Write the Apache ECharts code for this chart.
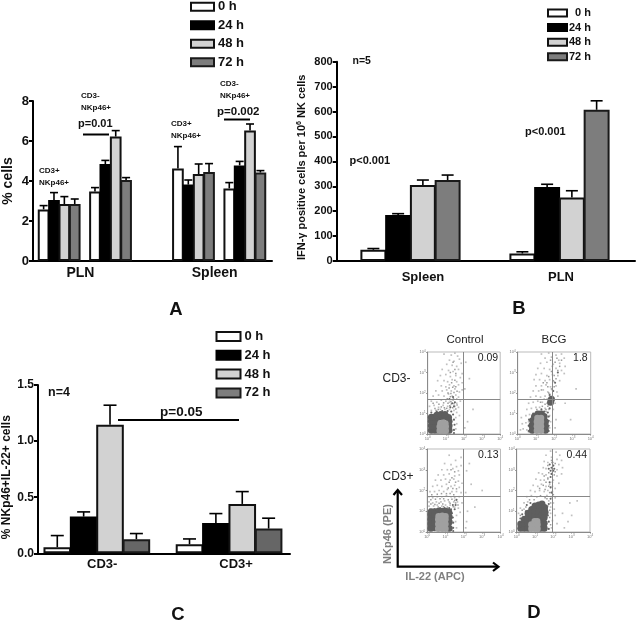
<!DOCTYPE html>
<html>
<head>
<meta charset="utf-8">
<style>html,body{margin:0;padding:0;background:#fff}#c{width:636px;height:622px}</style>
<script src="https://cdn.jsdelivr.net/npm/echarts@6/dist/echarts.min.js"></script>
</head>
<body>
<div id="c"></div>
<script>
// ---------- DATA ----------
const timepoints = ['0 h', '24 h', '48 h', '72 h'];

// Panel A (% cells): PLN CD3+, PLN CD3-, Spleen CD3+, Spleen CD3-
const aValues0  = [2.58, 3.47, 4.63, 3.63];
const aValues24 = [3.05, 4.85, 3.82, 4.78];
const aValues48 = [2.85, 6.22, 4.35, 6.53];
const aValues72 = [2.85, 4.05, 4.45, 4.42];
const aTops0    = [2.77, 3.67, 5.72, 3.92];
const aTops24   = [3.42, 5.03, 4.05, 4.98];
const aTops48   = [3.22, 6.52, 4.85, 6.85];
const aTops72   = [3.10, 4.17, 4.87, 4.52];
const aLabels   = ['PLN', 'Spleen'];

// Panel B (IFN-γ): Spleen, PLN
const bValues0  = [45, 30];
const bValues24 = [185, 297];
const bValues48 = [305, 255];
const bValues72 = [325, 607];
const bTops0    = [50, 37];
const bTops24   = [190, 308];
const bTops48   = [325, 282];
const bTops72   = [345, 643];
const bLabels   = ['Spleen', 'PLN'];

// Panel C (% NKp46+IL-22+): CD3-, CD3+
const cValues0  = [0.054, 0.08];
const cValues24 = [0.327, 0.27];
const cValues48 = [1.146, 0.44];
const cValues72 = [0.125, 0.22];
const cTops0    = [0.158, 0.128];
const cTops24   = [0.369, 0.354];
const cTops48   = [1.32, 0.55];
const cTops72   = [0.176, 0.313];
const cLabels   = ['CD3-', 'CD3+'];

// Panel D: log10 coordinates
const dSparse1 = [[0.9,3.9],[1.3,3.85],[1.5,3.95],[1.65,3.8],[1.2,3.6],[1.45,3.55],[1.75,3.65],[1.05,3.4],[1.35,3.35],[1.6,3.3],[1.85,3.45],[0.8,3.15],[1.15,3.1],[1.4,3.05],[1.7,3.15],[1.9,2.95],[0.7,2.85],[1.0,2.9],[1.25,2.8],[1.55,2.85],[1.8,2.75],[0.55,2.6],[0.9,2.6],[1.1,2.55],[1.35,2.65],[1.6,2.55],[1.9,2.5],[0.75,2.35],[1.0,2.3],[1.2,2.4],[1.45,2.35],[1.7,2.4],[0.45,2.1],[0.8,2.1],[1.05,2.15],[1.3,2.1],[1.5,2.2],[1.75,2.05],[1.9,2.15],[0.3,1.85],[0.6,1.9],[0.9,1.85],[1.15,1.95],[1.35,1.85],[1.55,1.9],[1.7,1.8],[0.2,1.6],[0.5,1.55],[0.75,1.65],[1.0,1.6],[1.2,1.55],[1.4,1.65],[1.6,1.5],[1.8,1.6],[0.1,1.35],[0.35,1.4],[0.6,1.3],[0.85,1.4],[1.1,1.35],[1.3,1.45],[1.5,1.35],[1.7,1.3],[0.2,1.15],[0.45,1.15],[0.7,1.2],[0.95,1.2],[1.2,1.2],[1.45,1.15],[1.6,1.05],[1.55,0.8],[1.6,0.5],[1.55,0.25],[1.75,0.9],[2.1,3.5],[2.3,2.7],[2.05,2.2],[2.5,1.2],[2.2,0.6],[2.05,0.3]];
const dMid1 = [[1.05,1.25],[1.22,1.38],[1.38,1.28],[1.55,1.22],[1.12,1.5],[1.28,1.58],[1.45,1.48],[1.62,1.42],[1.08,1.72],[1.25,1.82],[1.42,1.72],[1.6,1.7],[1.12,2.0],[1.28,1.98],[1.45,2.02],[1.62,2.08],[1.18,2.25],[1.38,2.28],[1.55,2.3],[0.4,1.25],[0.58,1.2],[0.75,1.32],[0.92,1.28],[0.3,1.5],[0.62,1.45],[0.88,1.52],[1.32,2.5],[1.5,2.62],[1.25,3.0],[1.5,3.15],[1.4,3.5],[1.55,2.95]];
const dHalo1 = [[0.2,1.05],[0.5,1.1],[0.8,1.12],[1.1,1.12],[1.3,1.1],[1.4,0.95],[1.45,0.7],[1.48,0.45],[1.45,0.2],[1.45,0.05],[1.25,1.3],[1.45,1.35],[1.35,1.5],[1.5,1.55],[1.2,1.7],[1.4,1.8]];
const dDark1 = [[0.2,0.18],[0.4,0.18],[0.6,0.18],[0.8,0.18],[1.0,0.18],[1.18,0.18],[0.2,0.4],[0.4,0.4],[1.18,0.4],[0.2,0.62],[0.4,0.62],[1.18,0.62],[0.2,0.82],[0.4,0.82],[0.6,0.82],[0.8,0.85],[1.0,0.85],[1.15,0.8],[0.5,0.92],[0.72,0.95],[0.95,0.95]];
const dLight1 = [[0.66,0.16],[0.85,0.16],[1.0,0.16],[0.66,0.36],[0.85,0.36],[1.0,0.36],[0.7,0.52],[0.85,0.55],[0.98,0.52]];

const dSparse2 = [[1.3,3.9],[1.7,3.95],[2.1,3.85],[2.4,3.9],[1.5,3.7],[1.85,3.75],[2.25,3.6],[2.55,3.7],[1.25,3.45],[1.6,3.5],[1.95,3.4],[2.3,3.45],[2.6,3.3],[1.1,3.2],[1.45,3.2],[1.75,3.15],[2.1,3.2],[2.4,3.1],[2.55,2.95],[1.0,2.9],[1.3,2.95],[1.6,2.85],[1.9,2.9],[2.2,2.85],[0.9,2.65],[1.2,2.65],[1.5,2.6],[1.75,2.65],[2.0,2.55],[2.3,2.6],[1.0,2.35],[1.3,2.35],[1.55,2.4],[1.8,2.3],[2.1,2.35],[0.85,2.1],[1.15,2.1],[1.4,2.15],[1.65,2.05],[1.9,2.15],[2.15,2.05],[0.7,1.8],[1.0,1.85],[1.25,1.8],[1.5,1.85],[1.75,1.95],[2.2,1.85],[0.6,1.5],[0.85,1.55],[1.1,1.6],[1.35,1.55],[1.6,1.5],[1.85,1.45],[2.05,1.5],[0.5,1.2],[0.75,1.25],[1.0,1.3],[1.2,1.3],[1.5,1.25],[1.7,1.2],[1.95,1.2],[0.2,0.8],[0.45,0.9],[0.65,0.95],[0.25,0.5],[0.45,0.55],[0.6,0.6],[0.15,0.2],[0.3,0.25],[0.5,0.2],[0.6,0.1],[1.75,0.9],[1.8,0.6],[1.75,0.3],[2.1,0.7],[2.05,0.3],[2.6,1.5],[2.9,0.7],[3.2,2.2]];
const dMid2 = [[1.55,1.2],[1.65,1.35],[1.72,1.55],[1.62,1.7],[1.8,1.45],[1.9,1.8],[1.7,2.0],[1.85,2.2],[2.0,2.3],[1.65,2.3],[1.95,2.6],[2.1,2.7],[1.7,2.8],[2.0,2.85],[2.2,3.1],[1.85,3.05],[2.3,3.3],[2.05,3.5],[2.4,3.6],[1.8,3.6],[1.2,1.1],[1.05,1.2],[1.35,1.35],[1.45,1.7],[1.25,1.55],[1.6,2.5],[1.4,2.5],[1.3,2.15],[1.55,1.1],[1.5,1.45],[1.9,3.3],[2.15,3.7]];
const dHalo2 = [[1.75,1.9],[1.8,1.75],[1.85,1.6],[1.95,2.1],[1.7,1.45],[1.75,1.25],[1.65,1.05],[1.7,0.85],[1.7,0.65],[1.7,0.4],[1.7,0.15],[1.45,1.1],[1.3,1.2],[0.85,1.0],[0.62,0.7],[0.6,0.4],[0.6,0.15],[2.05,2.5],[2.2,3.0]];
const dDark2 = [[0.8,0.18],[0.78,0.42],[0.82,0.66],[0.92,0.85],[1.1,0.98],[1.3,0.98],[1.45,0.85],[1.52,0.6],[1.52,0.38],[1.52,0.18],[1.85,1.7],[1.8,1.55]];
const dLight2 = [[1.05,0.16],[1.05,0.38],[1.05,0.6],[1.08,0.78],[1.28,0.16],[1.28,0.38],[1.28,0.6],[1.28,0.78]];

const dSparse3 = [[1.2,3.7],[1.55,3.45],[1.85,3.6],[2.3,3.3],[0.95,3.3],[1.3,3.25],[1.6,3.15],[1.85,3.2],[0.8,3.0],[1.1,3.0],[1.4,3.05],[1.7,2.95],[2.15,2.95],[0.6,2.75],[0.9,2.75],[1.2,2.8],[1.5,2.7],[1.75,2.75],[0.45,2.5],[0.75,2.5],[1.0,2.55],[1.25,2.5],[1.45,2.55],[1.7,2.45],[1.9,2.35],[0.3,2.2],[0.55,2.25],[0.8,2.2],[1.05,2.3],[1.3,2.2],[1.5,2.25],[1.75,2.15],[2.4,2.3],[0.15,1.95],[0.4,1.95],[0.65,2.0],[0.9,1.95],[1.1,2.05],[1.35,1.95],[1.6,1.95],[1.85,1.9],[0.1,1.7],[0.3,1.65],[0.55,1.7],[0.8,1.7],[1.05,1.75],[1.3,1.7],[1.5,1.65],[1.75,1.7],[0.1,1.45],[0.3,1.4],[0.5,1.45],[0.75,1.45],[0.95,1.5],[1.2,1.45],[1.45,1.45],[1.65,1.45],[1.9,1.4],[0.1,1.25],[0.35,1.25],[0.55,1.3],[0.8,1.25],[1.0,1.3],[1.25,1.3],[1.5,1.2],[1.7,1.15],[1.6,0.8],[1.55,0.5],[1.6,0.2],[1.8,0.95],[2.1,1.9],[2.2,1.0],[2.15,0.5],[2.6,1.2],[3.0,2.0],[2.1,0.2]];
const dMid3 = [[1.1,1.2],[1.25,1.38],[1.42,1.22],[1.55,1.4],[1.15,1.55],[1.35,1.58],[1.5,1.52],[1.68,1.3],[1.05,1.85],[1.25,1.85],[1.45,1.8],[1.15,2.12],[1.4,2.1],[1.6,2.08],[1.2,2.4],[1.35,2.62],[1.55,2.4],[0.2,1.35],[0.42,1.33],[0.65,1.38],[0.85,1.35],[0.2,1.55],[0.45,1.58],[0.7,1.6],[0.9,1.6],[0.25,1.8],[0.55,1.82],[0.78,1.85],[1.3,3.0],[1.5,2.9],[0.6,1.2],[0.9,1.22]];
const dHalo3 = [[1.3,1.1],[1.35,0.9],[1.4,0.7],[1.42,0.45],[1.42,0.2],[1.42,0.05],[1.2,1.15],[0.95,1.15],[0.7,1.15],[0.4,1.1],[0.15,1.08],[1.5,1.1],[1.55,1.3],[1.4,1.3],[1.6,1.55]];
const dDark3 = [[0.2,0.18],[0.2,0.4],[0.2,0.62],[0.2,0.84],[0.22,0.98],[0.42,0.98],[0.62,1.0],[0.82,1.0],[1.02,1.0],[1.18,0.95],[1.2,0.72],[1.2,0.48],[1.2,0.18],[0.42,0.2],[0.4,0.45],[0.4,0.7],[0.4,0.85]];
const dLight3 = [[0.6,0.16],[0.6,0.38],[0.6,0.6],[0.62,0.76],[0.82,0.16],[0.82,0.38],[0.82,0.6],[0.82,0.78],[1.0,0.16],[1.0,0.38],[1.0,0.6],[1.0,0.76]];

const dSparse4 = [[1.85,3.9],[2.15,3.85],[2.35,3.7],[1.6,3.7],[1.9,3.6],[2.2,3.5],[2.45,3.45],[1.5,3.4],[1.7,3.35],[2.3,3.25],[2.5,3.1],[1.45,3.1],[1.6,3.05],[2.2,3.0],[2.45,2.8],[1.2,2.85],[1.4,2.8],[1.6,2.75],[2.2,2.7],[2.0,2.5],[1.05,2.55],[1.3,2.5],[1.5,2.5],[1.7,2.55],[2.3,2.35],[0.9,2.25],[1.15,2.2],[1.35,2.3],[1.6,2.2],[1.8,2.3],[2.1,2.1],[0.75,2.0],[1.0,1.95],[1.25,2.0],[1.5,1.95],[1.7,2.0],[1.95,1.95],[0.55,1.7],[0.8,1.75],[1.65,1.75],[1.9,1.7],[2.1,1.65],[0.4,1.4],[0.6,1.45],[1.75,1.5],[2.0,1.4],[0.2,1.15],[0.4,1.1],[1.85,1.2],[2.05,1.1],[0.1,0.9],[1.85,0.9],[2.1,0.8],[1.95,0.55],[2.2,0.4],[1.9,0.2],[2.5,0.9],[2.9,1.4],[2.8,0.5],[3.0,0.8],[3.3,1.5],[2.6,0.2]];
const dMid4 = [[1.7,3.2],[1.95,3.0],[2.1,2.9],[1.75,2.85],[2.05,2.75],[1.9,3.45],[2.1,3.3],[1.7,2.6],[1.95,2.4],[1.6,2.4],[1.75,2.2],[1.95,2.2],[1.55,2.05],[1.8,1.9],[2.0,1.8],[1.65,1.6],[1.55,1.65],[1.3,1.75],[1.1,1.7],[0.95,1.55],[0.7,1.55],[0.5,1.2],[0.3,1.05],[0.2,0.8],[1.7,1.25],[1.85,1.4],[1.8,1.05],[1.8,0.7],[1.85,0.35],[1.25,2.1],[1.45,2.25],[1.5,2.7]];
const dHalo4 = [[1.8,3.25],[1.9,3.1],[2.0,3.2],[1.85,2.95],[2.0,2.95],[1.9,2.8],[2.05,3.05],[1.75,3.05],[1.95,3.35],[1.85,2.65],[1.8,2.4],[1.85,2.15],[1.9,1.9],[1.85,1.6],[1.75,1.35],[1.65,1.1],[1.7,0.8],[1.75,0.5],[1.75,0.15],[0.55,1.3],[0.75,1.4],[0.5,1.0],[0.3,0.85],[0.2,0.65]];
const dDark4 = [[0.22,0.18],[0.22,0.38],[0.42,0.18],[0.42,0.42],[0.42,0.62],[0.62,0.18],[0.62,0.45],[0.62,0.7],[0.62,0.9],[0.82,0.62],[0.82,0.85],[0.82,1.08],[1.0,0.75],[1.0,1.0],[1.0,1.25],[1.2,0.75],[1.2,1.0],[1.2,1.3],[1.38,0.55],[1.38,0.85],[1.38,1.1],[1.38,1.35],[1.52,1.18],[1.55,0.95],[1.5,0.7],[1.5,0.42],[1.5,0.18],[1.3,0.18],[1.3,0.38]];
const dLight4 = [[0.8,0.16],[0.8,0.36],[0.98,0.16],[0.98,0.36],[0.98,0.52],[1.14,0.16],[1.14,0.36],[1.12,0.52]];

const dPercents = ['0.09', '1.8', '0.13', '0.44'];
const dVertical = [1.95, 1.88, 1.96, 1.93];
const dHorizontal = [1.71, 1.71, 1.73, 1.73];

// ---------- OPTION BUILDING ----------
const FONT = '"Liberation Sans", Arial, sans-serif';
const INK = '#111';
const fills = ['#ffffff', '#000000', '#d2d2d2', '#7d7d7d'];
const edges = ['#111', '#000', '#111', '#1a1a1a'];

const grid = [], xAxis = [], yAxis = [], series = [], legend = [], graphic = [];

function barPanel(cfg) {
  const k = grid.length;
  grid.push({ left: cfg.left, top: cfg.top, width: cfg.width, height: cfg.height, containLabel: false });
  xAxis.push({
    type: 'value', gridIndex: k, min: cfg.left, max: cfg.left + cfg.width,
    splitLine: { show: false }, axisTick: { show: false },
    axisLine: { onZero: false, lineStyle: { color: '#000', width: 2 } },
    axisLabel: {
      customValues: cfg.labelAt, margin: cfg.labelMargin, color: INK,
      fontFamily: FONT, fontWeight: 'bold', fontSize: cfg.labelSize,
      formatter: v => cfg.labels[cfg.labelAt.indexOf(v)] || ''
    }
  });
  yAxis.push({
    type: 'value', gridIndex: k, min: 0, max: cfg.max, interval: cfg.interval,
    splitLine: { show: false },
    axisTick: { show: true, length: 4, lineStyle: { color: '#000', width: 2 } },
    axisLine: { show: true, onZero: false, lineStyle: { color: '#000', width: 2 } },
    axisLabel: { color: INK, fontFamily: FONT, fontWeight: 'bold', fontSize: cfg.tickSize, margin: 4,
      formatter: cfg.tickFormat },
    name: cfg.name, nameLocation: 'middle', nameRotate: 90, nameGap: cfg.nameGap,
    nameTextStyle: { color: INK, fontFamily: FONT, fontWeight: 'bold', fontSize: cfg.nameSize,
      padding: cfg.namePadding || 0,
      rich: { s: { fontFamily: FONT, fontWeight: 'bold', fontSize: 7, padding: [0, 0, 5, 0], color: INK } } }
  });
  timepoints.forEach((tp, s) => {
    const xAt = g => cfg.starts[g] + (s + 0.5) * cfg.step;
    series.push({
      type: 'bar', name: tp, xAxisIndex: k, yAxisIndex: k,
      barWidth: cfg.step + 1.2, barGap: '-100%', silent: true,
      itemStyle: { color: cfg.fills ? cfg.fills[s] : fills[s], borderColor: edges[s], borderWidth: 2 },
      data: cfg.values[s].map((v, g) => [xAt(g), v]),
      z: 3
    });
    series.push({
      type: 'custom', xAxisIndex: k, yAxisIndex: k, silent: true, z: 2, clip: false,
      encode: { x: 0, y: [1, 2] },
      renderItem: (p, api) => {
        const x = api.value(0);
        const top = api.coord([x, api.value(1)]);
        const base = api.coord([x, api.value(2)]);
        const st = { stroke: '#000', lineWidth: 1.6 };
        return { type: 'group', children: [
          { type: 'line', shape: { x1: top[0], y1: top[1], x2: base[0], y2: base[1] }, style: st },
          { type: 'line', shape: { x1: top[0] - cfg.cap / 2, y1: top[1], x2: top[0] + cfg.cap / 2, y2: top[1] }, style: st }
        ] };
      },
      data: cfg.tops[s].map((t, g) => [xAt(g), t, cfg.values[s][g]])
    });
  });
  legend.push(Object.assign({
    orient: 'vertical', data: timepoints.map(n => ({ name: n, icon: 'rect' })),
    selectedMode: false, padding: 0
  }, cfg.legend));
}

barPanel({
  left: 30, top: 101, width: 242, height: 160, max: 8, interval: 2,
  starts: [35.5, 87.5, 171.5, 223.5], step: 10.5, cap: 8,
  values: [aValues0, aValues24, aValues48, aValues72],
  tops: [aTops0, aTops24, aTops48, aTops72],
  labels: aLabels, labelAt: [78, 214], labelMargin: 5, labelSize: 14,
  tickSize: 13, name: '% cells', nameSize: 14, nameGap: 18,
  legend: { left: 190, top: 0.3, itemWidth: 23, itemHeight: 8, itemGap: 5.5,
    textStyle: { fontFamily: FONT, fontWeight: 'bold', fontSize: 13, color: INK, padding: [0, 0, 0, -1] } }
});
barPanel({
  left: 336.7, top: 61.7, width: 298.3, height: 199.3, max: 800, interval: 100,
  starts: [361, 510], step: 24.75, cap: 12,
  values: [bValues0, bValues24, bValues48, bValues72],
  tops: [bTops0, bTops24, bTops48, bTops72],
  labels: bLabels, labelAt: [423, 561], labelMargin: 10, labelSize: 13,
  tickSize: 11, name: 'IFN-γ positive cells per 10{s|6} NK cells', nameSize: 11, nameGap: 29,
  namePadding: [0, 12, 0, 0],
  legend: { left: 547, top: 7.5, itemWidth: 19, itemHeight: 7, itemGap: 3.6,
    formatter: n => n === '0 h' ? '  0 h' : n,
    textStyle: { fontFamily: FONT, fontWeight: 'bold', fontSize: 11, color: INK, padding: [0, 0, 0, -3] } }
});
barPanel({
  left: 37.7, top: 385, width: 252.3, height: 168.3, max: 1.5, interval: 0.5,
  starts: [43.8, 176.2], step: 26.4, cap: 13,
  values: [cValues0, cValues24, cValues48, cValues72],
  tops: [cTops0, cTops24, cTops48, cTops72],
  fills: ['#ffffff', '#000000', '#d2d2d2', '#666666'],
  labels: cLabels, labelAt: [102, 236], labelMargin: 5, labelSize: 13,
  tickSize: 12, tickFormat: v => v.toFixed(1), name: '% NKp46+IL-22+ cells', nameSize: 12, nameGap: 25,
  namePadding: [0, 16, 0, 0],
  legend: { left: 215.5, top: 330, itemWidth: 24, itemHeight: 9, itemGap: 5.8,
    textStyle: { fontFamily: FONT, fontWeight: 'bold', fontSize: 13, color: INK, padding: [0, 0, 0, -1] } }
});

// Panel D dot plots
const plotRects = [
  { left: 427.7, top: 352, width: 72.5, height: 82 },
  { left: 517.7, top: 352, width: 73, height: 82 },
  { left: 427.2, top: 449, width: 73.3, height: 83 },
  { left: 516.7, top: 449, width: 73.3, height: 83 }
];
const dSets = [
  [dSparse1, dMid1, dHalo1, dDark1, dLight1],
  [dSparse2, dMid2, dHalo2, dDark2, dLight2],
  [dSparse3, dMid3, dHalo3, dDark3, dLight3],
  [dSparse4, dMid4, dHalo4, dDark4, dLight4]
];
const layerStyle = [
  { size: 1.7, color: '#b0b0b0', opacity: 0.8, symbol: 'rect' },
  { size: 1.5, color: '#8a8a8a', opacity: 0.85, symbol: 'rect' },
  { size: 2.1, color: '#666', opacity: 1, symbol: 'circle' },
  { size: 7, color: '#5e5e5e', opacity: 1, symbol: 'circle' },
  { size: 6.4, color: '#a0a0a0', opacity: 1, symbol: 'circle' }
];
plotRects.forEach((r, i) => {
  const k = grid.length;
  grid.push({ left: r.left, top: r.top, width: r.width, height: r.height, show: true, borderColor: '#bbb', borderWidth: 1, backgroundColor: 'transparent' });
  const logFmt = v => '10{s|' + v + '}';
  const tiny = { color: '#777', fontFamily: FONT, fontSize: 4, margin: 2, formatter: logFmt, rich: { s: { fontSize: 3, color: '#777', padding: [0, 0, 2, 0] } } };
  const ax = { type: 'value', gridIndex: k, min: 0, max: 4, interval: 1, splitLine: { show: false },
    axisLine: { onZero: false, lineStyle: { color: '#8a8a8a', width: 1 } },
    axisTick: { length: 1.5, lineStyle: { color: '#8a8a8a' } }, axisLabel: tiny };
  xAxis.push(Object.assign({}, ax));
  yAxis.push(Object.assign({}, ax));
  dSets[i].forEach((pts, l) => {
    const ls = layerStyle[l];
    const sr = { type: 'scatter', xAxisIndex: k, yAxisIndex: k, silent: true, data: pts,
      symbol: ls.symbol, symbolSize: ls.size,
      itemStyle: { color: ls.color, opacity: ls.opacity }, z: 2 + l };
    if (l === 0) {
      sr.markLine = { silent: true, symbol: 'none', animation: false, label: { show: false }, z: 10,
        lineStyle: { color: '#888', width: 1, type: 'solid' },
        data: [{ xAxis: dVertical[i] }, { yAxis: dHorizontal[i] }] };
    }
    series.push(sr);
  });
  graphic.push(txt(dPercents[i], r.left + r.width - (i % 2 ? 3 : 2), r.top + 6.5, '10.5px', 'right', false, '#222'));
});

function txt(text, x, y, size, align, bold, fill, extra) {
  return Object.assign({ type: 'text', x, y, silent: true, z: 20, style: {
    text, fill: fill || INK, font: (bold === false ? '' : 'bold ') + size + ' ' + FONT,
    textAlign: align || 'left', textVerticalAlign: 'middle', lineHeight: 11.5 } }, extra || {});
}
function rule(x1, y, x2) {
  return { type: 'line', silent: true, z: 20, shape: { x1, y1: y, x2, y2: y }, style: { stroke: '#000', lineWidth: 2 } };
}

graphic.push(
  // Panel A notes
  txt('CD3+\nNKp46+', 39, 177, '8px'), txt('CD3-\nNKp46+', 81, 102, '8px'),
  txt('CD3+\nNKp46+', 171, 130, '8px'), txt('CD3-\nNKp46+', 220, 90, '8px'),
  txt('p=0.01', 78, 124, '11px'), txt('p=0.002', 217, 112, '11.5px'),
  rule(83, 134.5, 109), rule(224, 119.5, 250),
  txt('A', 176, 310, '18.5px', 'center'),
  // Panel B notes
  txt('n=5', 352.5, 61.5, '10.5px'), txt('p<0.001', 349.5, 161, '11px'), txt('p<0.001', 525, 131.5, '11px'),
  txt('B', 519, 309, '18.5px', 'center'),
  // Panel C notes
  txt('n=4', 48, 393, '12.5px'), txt('p=0.05', 160, 412, '13.5px'), rule(118, 420, 239),
  txt('C', 178, 615, '18.5px', 'center'),
  // Panel D notes
  txt('Control', 465, 339.5, '11.5px', 'center', false, '#222'),
  txt('BCG', 554, 339.5, '11.5px', 'center', false, '#222'),
  txt('CD3-', 382.5, 379, '12px', 'left', false, '#222'),
  txt('CD3+', 382.5, 477, '12px', 'left', false, '#222'),
  txt('IL-22 (APC)', 435, 577, '11px', 'center', true, '#7f7f7f'),
  txt('NKp46 (PE)', 0, 0, '11px', 'center', true, '#7f7f7f', { x: 388, y: 534, rotation: Math.PI / 2 }),
  { type: 'polyline', silent: true, z: 20, shape: { points: [[397.7, 490.5], [397.7, 566.7], [498, 566.7]] }, style: { stroke: '#000', lineWidth: 2.2, fill: 'none' } },
  { type: 'polyline', silent: true, z: 20, shape: { points: [[393.5, 495], [397.7, 490], [402, 495]] }, style: { stroke: '#000', lineWidth: 2.2, fill: 'none' } },
  { type: 'polyline', silent: true, z: 20, shape: { points: [[493, 562.5], [498.5, 566.7], [493, 571]] }, style: { stroke: '#000', lineWidth: 2.2, fill: 'none' } },
  txt('D', 534, 613, '18.5px', 'center')
);

const chart = echarts.init(document.getElementById('c'), null, { renderer: 'canvas', width: 636, height: 622 });
chart.setOption({ animation: false, backgroundColor: '#fff', textStyle: { fontFamily: FONT }, grid, xAxis, yAxis, legend, series, graphic });
</script>
</body>
</html>
